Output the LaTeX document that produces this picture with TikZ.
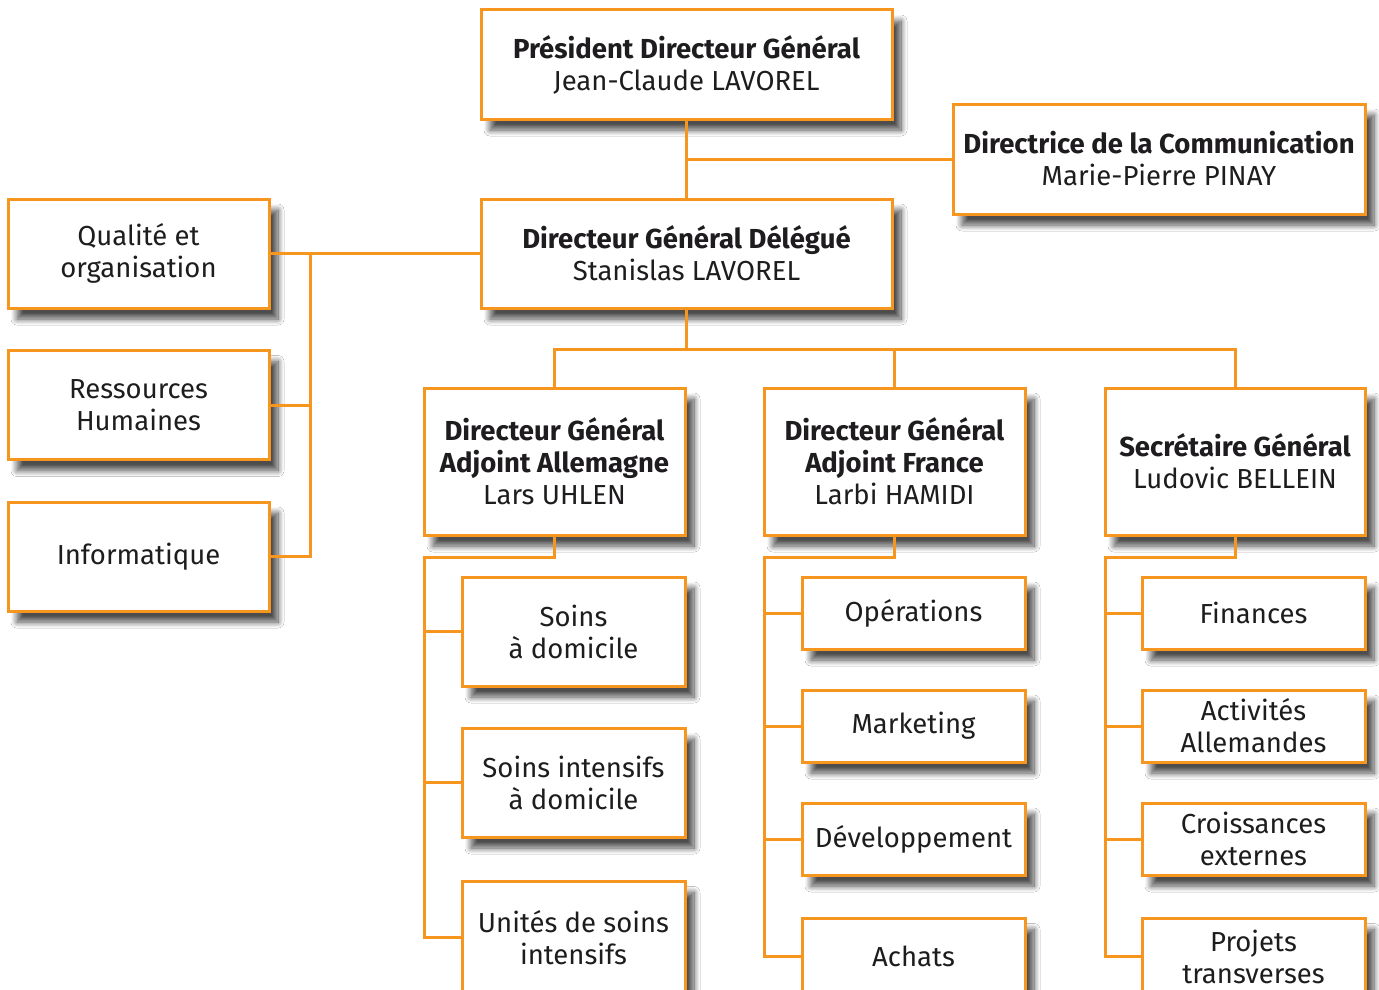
\documentclass[tikz,border=0pt]{standalone}
\usepackage{fontspec}
\setmainfont{Fira Sans}
\usetikzlibrary{shadows.blur}
\definecolor{org}{RGB}{247,150,30}
\definecolor{ink}{RGB}{30,28,30}
\begin{document}
\begin{tikzpicture}[x=1pt,y=-1pt,
  box/.style={draw=org, line width=3pt, fill=white, align=center, text=ink, inner sep=0pt,
    font=\fontsize{27.5}{32}\selectfont,
    blur shadow={shadow xshift=9pt, shadow yshift=-11pt, shadow blur radius=6pt, shadow blur steps=14, shadow opacity=70}},
  big/.style={box, minimum width=411pt, minimum height=109pt},
  side/.style={box, minimum width=261pt, minimum height=109pt},
  mgr/.style={box, minimum width=261pt, minimum height=147pt},
  sub/.style={box, minimum width=223pt, minimum height=109pt},
  small/.style={box, minimum width=223pt, minimum height=72pt},
  conn/.style={draw=org, line width=3pt}]
\useasboundingbox (0,0) rectangle (1379,990);
\fill[white] (0,0) rectangle (1379,990);

\node[big] (pdg) at (686.5,64.5) {\textbf{Président Directeur Général}\\Jean-Claude LAVOREL};
\node[big] (dgd) at (686.5,253.5) {\textbf{Directeur Général Délégué}\\Stanislas LAVOREL};
\node[big, minimum width=412pt, minimum height=110pt] (dircom) at (1159,159) {\textbf{Directrice de la Communication}\\Marie-Pierre PINAY};

\node[side] (qual) at (138.5,253.5) {Qualité et\\organisation};
\node[side] (rh) at (138.5,405) {Ressources\\Humaines};
\node[side] (info) at (138.5,556.5) {Informatique};

\node[mgr] (dga) at (554.5,461.5) {\textbf{Directeur Général}\\\textbf{Adjoint Allemagne}\\Lars UHLEN};
\node[mgr] (dgf) at (894.5,461.5) {\textbf{Directeur Général}\\\textbf{Adjoint France}\\Larbi HAMIDI};
\node[mgr, minimum width=260pt] (sg) at (1235,461.5) {\textbf{Secrétaire Général}\\Ludovic BELLEIN};

\node[sub] (a1) at (573.5,631.5) {Soins\\à domicile};
\node[sub] (a2) at (573.5,782.5) {Soins intensifs\\à domicile};
\node[sub, minimum height=112pt, anchor=north] (a3) at (573.5,880) {Unités de soins\\intensifs};

\node[small] (f1) at (913.5,613) {Opérations};
\node[small] (f2) at (913.5,726) {Marketing};
\node[small] (f3) at (913.5,839) {Développement};
\node[small, minimum height=76pt, anchor=north] (f4) at (913.5,917) {Achats};

\node[small] (s1) at (1253.5,613) {Finances};
\node[small] (s2) at (1253.5,726) {Activités\\Allemandes};
\node[small] (s3) at (1253.5,839) {Croissances\\externes};
\node[small, minimum height=76pt, anchor=north] (s4) at (1253.5,917) {Projets\\transverses};

% top connectors
\draw[conn] (pdg.south) -- (dgd.north);
\draw[conn] (pdg.south |- dircom.west) -- (dircom.west);
% left staff
\coordinate (lbus) at (310,253.5);
\draw[conn] (dgd.west) -- (qual.east);
\draw[conn] (lbus) |- (info.east);
\draw[conn] (lbus |- rh.east) -- (rh.east);
% managers
\coordinate (hbar) at (686.5,349);
\draw[conn] (dgd.south) -- (hbar);
\draw[conn] (dga.north) |- (hbar) -| (sg.north);
\draw[conn] (dgf.north) -- (dgf.north |- hbar);
% Allemagne
\coordinate (abus) at (424,557);
\draw[conn] (dga.south) |- (abus) |- (a3.west);
\draw[conn] (abus |- a1.west) -- (a1.west);
\draw[conn] (abus |- a2.west) -- (a2.west);
% France
\coordinate (fbus) at (764,557);
\draw[conn] (dgf.south) |- (fbus) |- (f4.west);
\draw[conn] (fbus |- f1.west) -- (f1.west);
\draw[conn] (fbus |- f2.west) -- (f2.west);
\draw[conn] (fbus |- f3.west) -- (f3.west);
% SG
\coordinate (sbus) at (1105,557);
\draw[conn] (sg.south) |- (sbus) |- (s4.west);
\draw[conn] (sbus |- s1.west) -- (s1.west);
\draw[conn] (sbus |- s2.west) -- (s2.west);
\draw[conn] (sbus |- s3.west) -- (s3.west);
\end{tikzpicture}
\end{document}
